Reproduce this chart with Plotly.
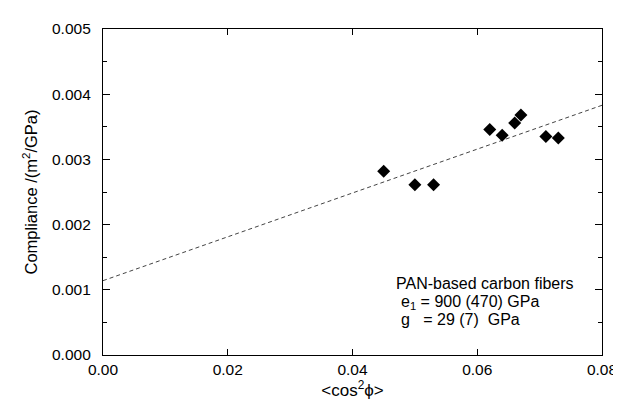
import plotly.graph_objects as go

cos2phi = [0.045, 0.050, 0.053, 0.062, 0.064, 0.066, 0.067, 0.071, 0.073]
compliance = [0.00282, 0.00261, 0.00261, 0.00346, 0.00337, 0.00356, 0.00368, 0.00335, 0.00333]
fit_x = [0.0, 0.08]
fit_y = [0.00114, 0.00383]

x_ticks = [0.00, 0.02, 0.04, 0.06, 0.08]
y_ticks = [0.000, 0.001, 0.002, 0.003, 0.004, 0.005]

font_family = "Liberation Sans, Arial, sans-serif"

fig = go.Figure()
fig.add_trace(go.Scatter(
    x=fit_x, y=fit_y, mode="lines",
    line=dict(color="#444444", width=1, dash="4px,3px"),
    showlegend=False, hoverinfo="skip"))
fig.add_trace(go.Scatter(
    x=cos2phi, y=compliance, mode="markers",
    marker=dict(symbol="diamond", size=10, color="black"),
    showlegend=False))

fig.update_xaxes(
    range=[0, 0.08], tickvals=x_ticks, tickformat=".2f",
    showline=True, linecolor="black", linewidth=1.2, mirror="ticks",
    ticks="inside", ticklen=6, tickwidth=1, tickcolor="black",
    showgrid=False, zeroline=False,
    tickfont=dict(family=font_family, size=15.5, color="black"),
    title=dict(text="<cos<sup>2</sup>ϕ>", font=dict(family=font_family, size=17, color="black"), standoff=6),
)
fig.update_yaxes(
    range=[0, 0.005], tickvals=y_ticks, tickformat=".3f",
    showline=True, linecolor="black", linewidth=1.2, mirror="ticks",
    ticks="inside", ticklen=7, tickwidth=1, tickcolor="black",
    minor=dict(dtick=0.0005, ticks="inside", ticklen=4, tickcolor="black"),
    showgrid=False, zeroline=False, ticklabelstandoff=8,
    tickfont=dict(family=font_family, size=15.5, color="black"),
    title=dict(text="Compliance /(m<sup>2</sup>/GPa)", font=dict(family=font_family, size=16.5, color="black"), standoff=10),
)

ann_font = dict(family=font_family, size=16, color="black")
fig.add_annotation(x=0.0467, y=0.00109, xref="x", yref="y", xanchor="left", yanchor="middle",
                   text="PAN-based carbon fibers", showarrow=False, font=ann_font)
fig.add_annotation(x=0.0474, y=0.00081, xref="x", yref="y", xanchor="left", yanchor="middle",
                   text="e<sub>1</sub> = 900 (470) GPa", showarrow=False, font=ann_font)
fig.add_annotation(x=0.0474, y=0.00054, xref="x", yref="y", xanchor="left", yanchor="middle",
                   text="g   = 29 (7)  GPa", showarrow=False, font=ann_font)

fig.update_layout(
    width=621, height=400,
    margin=dict(l=95, r=18, t=19, b=51),
    paper_bgcolor="white", plot_bgcolor="white",
    font=dict(family=font_family, color="black"),
)

fig.write_html("out.html")
